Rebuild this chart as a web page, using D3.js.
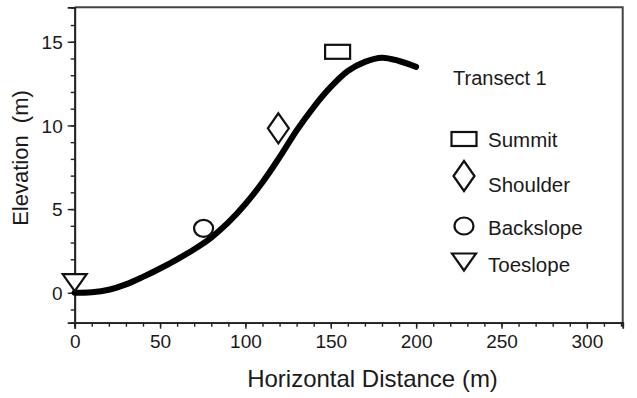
<!DOCTYPE html>
<html lang="en">
	<head>
		<meta charset="utf-8">
		<title>Transect 1</title>
		<script src="https://d3js.org/d3.v7.min.js"></script>
		<style>
			body { margin: 0; background: #fff; }
			text { font-family: "Liberation Sans", Arial, sans-serif; fill: #1a1a1a; }
		</style>
	</head>
	<body>
		<script type="text/javascript">

			// profile of the slope
			var distance = [0, 10, 20, 30, 40, 50, 60, 70, 80, 90, 100, 110, 120, 130, 140, 150, 160, 170, 180, 190, 200];
			var elevation = [0, 0.03, 0.18, 0.5, 0.95, 1.45, 2.0, 2.6, 3.3, 4.2, 5.3, 6.6, 8.1, 9.7, 11.1, 12.3, 13.25, 13.8, 14.05, 13.85, 13.5];

			// landscape positions
			var posNames = ["Summit", "Shoulder", "Backslope", "Toeslope"];
			var posShapes = ["rect", "diamond", "circle", "triangle"];
			var posX = [154, 119.3, 75.5, 0];
			var posY = [14.4, 9.83, 3.85, 0.6];

			var xTicks = [0, 50, 100, 150, 200, 250, 300];
			var yTicks = [0, 5, 10, 15];

			var w = 637;
			var h = 398;
			var pLeft = 74.7, pRight = 622.7, pTop = 7.3, pBottom = 322.7;

			var xScale = d3.scaleLinear().domain([0, 321]).range([pLeft, pRight]);
			var yScale = d3.scaleLinear().domain([-1.79, 17.06]).range([pBottom, pTop]);

			var svg = d3.select("body").append("svg").attr("width", w).attr("height", h);

			// frame top + right
			svg.append("path")
				.attr("d", "M" + pLeft + "," + pTop + "H" + pRight + "V" + pBottom)
				.attr("fill", "none").attr("stroke", "#444").attr("stroke-width", 2);

			// minor ticks
			var xMinor = d3.axisBottom(xScale).tickValues(d3.range(0, 321, 10)).tickSize(4).tickFormat("");
			var yMinor = d3.axisLeft(yScale).tickValues(d3.range(-1, 17, 1)).tickSize(4).tickFormat("");
			var xAxis = d3.axisBottom(xScale).tickValues(xTicks).tickSize(6).tickPadding(6);
			var yAxis = d3.axisLeft(yScale).tickValues(yTicks).tickSize(7).tickPadding(5);

			[xMinor, xAxis].forEach(function(a) {
				svg.append("g").attr("class", "xax").attr("transform", "translate(0," + pBottom + ")").call(a);
			});
			[yMinor, yAxis].forEach(function(a) {
				svg.append("g").attr("class", "yax").attr("transform", "translate(" + pLeft + ",0)").call(a);
			});
			svg.selectAll(".xax path, .yax path").attr("stroke", "#222").attr("stroke-width", 1.8);
			svg.selectAll(".xax line, .yax line").attr("stroke", "#222").attr("stroke-width", 1.4);
			svg.selectAll(".xax text, .yax text")
				.style("font-family", "'Liberation Sans', Arial, sans-serif")
				.style("font-size", "19px").attr("fill", "#1a1a1a");
			svg.selectAll(".yax text").attr("dy", "0.36em");

			// axis titles
			svg.append("text")
				.attr("x", (248 + 497) / 2).attr("y", 387)
				.attr("text-anchor", "middle").style("font-size", "24px")
				.text("Horizontal Distance (m)");
			svg.append("text")
				.attr("transform", "translate(28,158) rotate(-90)")
				.attr("text-anchor", "middle").style("font-size", "22px")
				.attr("xml:space", "preserve")
				.text("Elevation  (m)");

			// profile line
			var line = d3.line()
				.x(function(d, i) { return xScale(distance[i]); })
				.y(function(d) { return yScale(d); })
				.curve(d3.curveCatmullRom.alpha(0.5));
			svg.append("path")
				.datum(elevation)
				.attr("d", line)
				.attr("fill", "none").attr("stroke", "#000")
				.attr("stroke-width", 6).attr("stroke-linecap", "round");

			function marker(g, shape) {
				if (shape == "rect") {
					g.append("rect").attr("x", -12.5).attr("y", -7).attr("width", 25).attr("height", 14);
				} else if (shape == "diamond") {
					g.append("path").attr("d", "M0,-15L10.5,0L0,15L-10.5,0Z");
				} else if (shape == "circle") {
					g.append("ellipse").attr("rx", 9.5).attr("ry", 8.5);
				} else {
					g.append("path").attr("d", "M-12,-8.5L12,-8.5L0,8.5Z");
				}
				g.selectAll("*").attr("fill", "#fff").attr("stroke", "#111").attr("stroke-width", 2.2);
			}

			// markers on the profile
			posNames.forEach(function(name, i) {
				var g = svg.append("g")
					.attr("transform", "translate(" + xScale(posX[i]) + "," + yScale(posY[i]) + ")");
				marker(g, posShapes[i]);
			});

			// legend
			svg.append("text").attr("x", 453).attr("y", 85).style("font-size", "20px").text("Transect 1");
			var legY = [139, 176, 226, 262];
			var legTextY = [147, 192, 235, 272];
			posNames.forEach(function(name, i) {
				var g = svg.append("g").attr("transform", "translate(464," + legY[i] + ")");
				marker(g, posShapes[i]);
				svg.append("text").attr("x", 488).attr("y", legTextY[i])
					.style("font-size", "20.5px").text(name);
			});

		</script>
	</body>
</html>
